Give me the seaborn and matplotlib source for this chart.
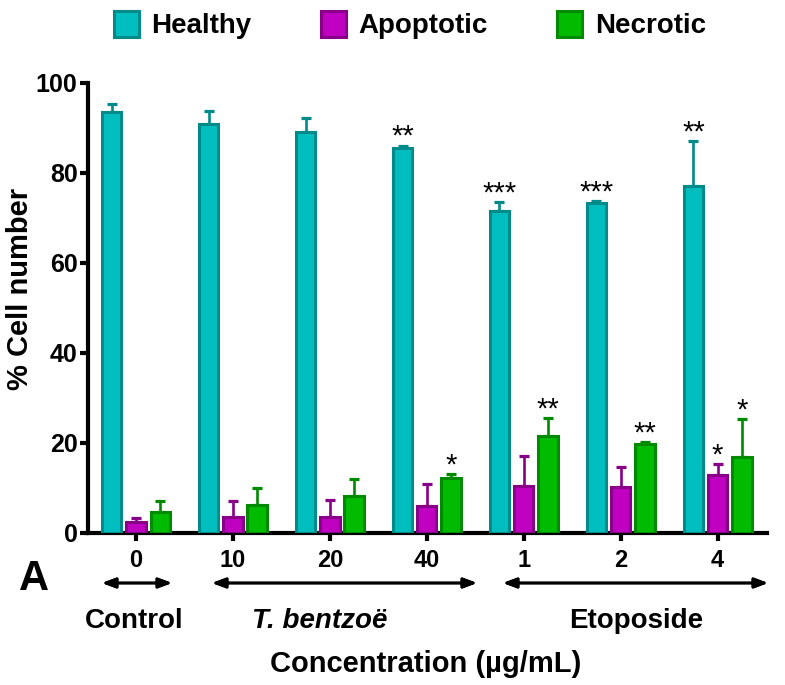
import numpy as np
import pandas as pd
import seaborn as sns
import matplotlib.pyplot as plt
from matplotlib.patches import Patch

# data
conc = ['0', '10', '20', '40', '1', '2', '4']
states = ['Healthy', 'Apoptotic', 'Necrotic']
healthy = [93.5, 90.9, 89.2, 85.5, 71.5, 73.4, 77.2]
healthy_err = [1.9, 2.9, 3.0, 0.6, 2.1, 0.3, 10.0]
apoptotic = [2.4, 3.6, 3.6, 6.0, 10.5, 10.3, 12.9]
apoptotic_err = [0.9, 3.4, 3.7, 4.8, 6.6, 4.4, 2.4]
necrotic = [4.7, 6.3, 8.3, 12.2, 21.6, 19.7, 16.9]
necrotic_err = [2.3, 3.8, 3.7, 1.0, 4.0, 0.6, 8.5]
healthy_sig = ['', '', '', '**', '***', '***', '**']
apoptotic_sig = ['', '', '', '', '', '', '*']
necrotic_sig = ['', '', '', '*', '**', '**', '*']

fills = ['#00BEBE', '#C000C0', '#00BB00']
edges = ['#008A8A', '#880088', '#008A00']

df = pd.DataFrame({
    'conc': conc * 3,
    'state': np.repeat(states, len(conc)),
    'value': healthy + apoptotic + necrotic,
})
errs = [healthy_err, apoptotic_err, necrotic_err]
sigs = [healthy_sig, apoptotic_sig, necrotic_sig]

sns.set_style('ticks', {'axes.edgecolor': 'black', 'text.color': 'black',
                        'xtick.color': 'black', 'ytick.color': 'black',
                        'axes.labelcolor': 'black'})
plt.rcParams['font.family'] = ['Liberation Sans', 'DejaVu Sans']
plt.rcParams['font.weight'] = 'bold'

fig = plt.figure(figsize=(7.85, 6.85), dpi=100)
ax = fig.add_axes([0.1121, 0.2219, 0.865, 0.657])

sns.barplot(data=df, x='conc', y='value', hue='state', order=conc, hue_order=states,
            palette=fills, width=0.75, gap=0.2, errorbar=None, legend=False,
            saturation=1, ax=ax)

for cont, ec, err, sig in zip(ax.containers, edges, errs, sigs):
    xs, ys = [], []
    for bar in cont:
        bar.set_edgecolor(ec)
        bar.set_linewidth(2.2)
        bar.set_zorder(3)
        xs.append(bar.get_x() + bar.get_width() / 2)
        ys.append(bar.get_height())
    ax.errorbar(xs, ys, yerr=[np.zeros(len(err)), err], fmt='none', ecolor=ec,
                elinewidth=1.9, capsize=3.8, capthick=2.3, zorder=2)
    for x, y, e, s in zip(xs, ys, err, sig):
        if s:
            ax.text(x, y + e + 0.1, s, ha='center', va='baseline', fontsize=21,
                    fontweight='normal', color='black')

ax.set_xlim(-0.495, 6.51)
ax.set_ylim(0, 100)
ax.set_yticks([0, 20, 40, 60, 80, 100])
ax.set_xlabel('')
ax.set_ylabel('')
sns.despine(ax=ax)
for sp in ['left', 'bottom']:
    ax.spines[sp].set_linewidth(3)
    ax.spines[sp].set_color('black')
ax.tick_params(axis='y', length=5.5, width=3, labelsize=18, pad=2, colors='black')
ax.tick_params(axis='x', length=5.5, width=3, labelsize=17, pad=6, colors='black')
for lab in ax.get_xticklabels() + ax.get_yticklabels():
    lab.set_fontweight('bold')

# legend
handles = [Patch(facecolor=f, edgecolor=e, linewidth=2.2) for f, e in zip(fills, edges)]
fig.legend(handles, states, loc='center', bbox_to_anchor=(0.522, 0.9635), ncol=3,
           frameon=False, prop={'size': 20, 'weight': 'bold'}, handlelength=0.9,
           handleheight=1.1, handletextpad=0.45, columnspacing=2.5, borderpad=0,
           labelcolor='black')

# group arrows and labels below the axis
W, H = 785, 685
def fx(px):
    return px / W
def fy(py):
    return 1 - py / H

for x0, x1 in [(102, 172), (212, 477), (503, 768)]:
    fig.add_artist(plt.annotate('', xy=(fx(x1), fy(583)), xytext=(fx(x0), fy(583)),
                                xycoords='figure fraction',
                                arrowprops=dict(arrowstyle='<|-|>,head_length=0.8,head_width=0.3',
                                                color='black', lw=2, shrinkA=0, shrinkB=0)))

fig.text(fx(134), fy(628), 'Control', ha='center', va='baseline', fontsize=20, fontweight='bold')
fig.text(fx(320), fy(628), 'T. bentzoë', ha='center', va='baseline', fontsize=20,
         fontweight='bold', fontstyle='italic')
fig.text(fx(636), fy(628), 'Etoposide', ha='center', va='baseline', fontsize=20, fontweight='bold')
fig.text(fx(426), fy(672), 'Concentration (µg/mL)', ha='center', va='baseline', fontsize=21,
         fontweight='bold')
fig.text(fx(34), fy(590), 'A', ha='center', va='baseline', fontsize=30, fontweight='bold')
fig.text(fx(20), fy(289), '% Cell number', ha='center', va='center', rotation=90,
         fontsize=21, fontweight='bold')

fig.savefig('out.png', dpi=100)
